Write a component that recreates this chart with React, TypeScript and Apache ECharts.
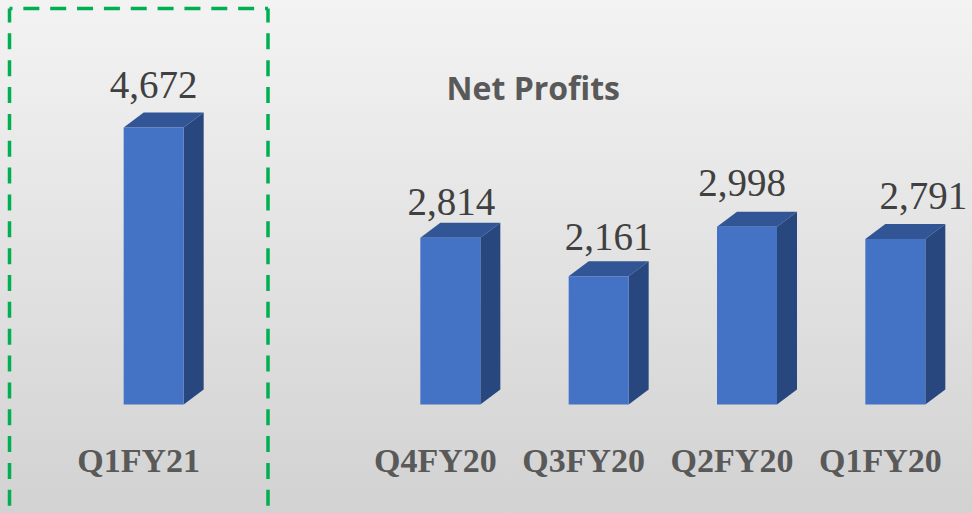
import React, { useEffect, useRef } from "react";
import * as echarts from "echarts";

const categories = ["Q1FY21", "", "Q4FY20", "Q3FY20", "Q2FY20", "Q1FY20"];
const profits: (number | string)[] = [4672, "-", 2814, 2161, 2998, 2791];
const labelTexts = ["4,672", "", "2,814", "2,161", "2,998", "2,791"];
const labelShiftX = [0, 0, 1, 10, -5, 28];
const labelShiftY = [0, 0, 6, 3, -2, -1];

const SERIF = "'Liberation Serif', serif";
const BAR_W = 60;
const DX = 20;
const DY = 15;
const DASH = [16, 10.85];

function renderBar(params: any, api: any) {
  const i = api.value(0);
  const v = api.value(1);
  const [cx, top] = api.coord([i, v]);
  const [, base] = api.coord([i, 0]);
  const l = cx - BAR_W / 2;
  const r = cx + BAR_W / 2;
  return {
    type: "group",
    children: [
      {
        type: "polygon",
        shape: { points: [[l, top], [l + DX, top - DY], [r + DX, top - DY], [r, top]] },
        style: { fill: "#325595" },
      },
      {
        type: "polygon",
        shape: { points: [[r, top], [r + DX, top - DY], [r + DX, base - DY], [r, base]] },
        style: { fill: "#29477f" },
      },
      {
        type: "rect",
        shape: { x: l, y: top, width: BAR_W, height: base - top },
        style: { fill: "#4472c4" },
      },
      {
        type: "text",
        style: {
          x: cx + labelShiftX[i],
          y: top - 23 + labelShiftY[i],
          text: labelTexts[i],
          fill: "#404040",
          font: `39px ${SERIF}`,
          align: "center",
          verticalAlign: "bottom",
        },
      },
    ],
  };
}

function dashedLine(x1: number, y1: number, x2: number, y2: number, offset: number) {
  return {
    type: "line",
    shape: { x1, y1, x2, y2 },
    style: { stroke: "#00b050", lineWidth: 3.5, lineDash: DASH, lineDashOffset: offset },
  };
}

export default function App() {
  const ref = useRef<HTMLDivElement>(null);
  useEffect(() => {
    document.body.style.margin = "0";
    const chart = echarts.init(ref.current!, undefined, { renderer: "svg" });
    chart.setOption({
      animation: false,
      backgroundColor: {
        type: "linear",
        x: 0,
        y: 0,
        x2: 0,
        y2: 1,
        colorStops: [
          { offset: 0, color: "#f3f3f3" },
          { offset: 1, color: "#d2d2d2" },
        ],
      },
      title: {
        text: "Net Profits",
        left: 441.5,
        top: 66,
        textStyle: {
          fontFamily: "'Open Sans', sans-serif",
          fontSize: 32,
          fontWeight: "bold",
          color: "#595959",
        },
      },
      grid: { left: 79.5, right: 2.5, top: 108, bottom: 108.5 },
      xAxis: {
        type: "category",
        data: categories,
        axisLine: { show: false },
        axisTick: { show: false },
        axisLabel: {
          interval: 0,
          margin: 39,
          padding: [0, 30, 0, 0],
          fontFamily: SERIF,
          fontSize: 34,
          fontWeight: "bold",
          color: "#595959",
        },
      },
      yAxis: { type: "value", min: 0, max: 5000, show: false },
      series: [
        {
          type: "custom",
          renderItem: renderBar,
          encode: { x: 0, y: 1 },
          clip: false,
          data: profits.map((v, i) => [i, v]),
        },
      ],
      graphic: [
        dashedLine(9.5, 8.5, 268, 8.5, 13.35),
        dashedLine(9.5, 8.5, 9.5, 513, 2.35),
        dashedLine(268, 8.5, 268, 513, 2.35),
      ],
    });
    return () => chart.dispose();
  }, []);
  return <div ref={ref} style={{ width: 972, height: 513 }} />;
}
